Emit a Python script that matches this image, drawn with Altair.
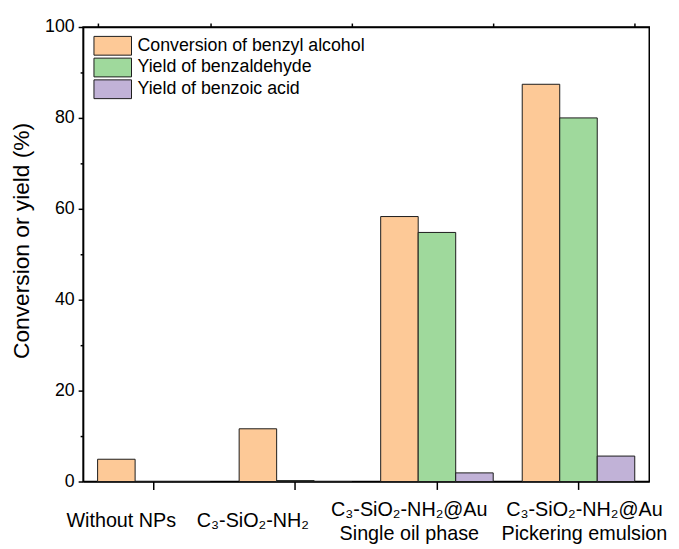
import altair as alt
import pandas as pd

# ---- data ----
categories = ["Without NPs", "C3-SiO2-NH2", "C3-SiO2-NH2@Au single oil", "C3-SiO2-NH2@Au Pickering"]
category_labels = [
    ["Without NPs"],
    ["C₃-SiO₂-NH₂"],
    ["C₃-SiO₂-NH₂@Au", "Single oil phase"],
    ["C₃-SiO₂-NH₂@Au", "Pickering emulsion"],
]
series = ["Conversion of benzyl alcohol", "Yield of benzaldehyde", "Yield of benzoic acid"]
conversion = [4.9, 11.6, 58.3, 87.4]
benzaldehyde = [0.0, 0.2, 54.8, 80.0]
benzoic_acid = [0.0, 0.0, 1.9, 5.6]
y_ticks = [0, 10, 20, 30, 40, 50, 60, 70, 80, 90, 100]

# ---- styles ----
colors = ["#FDC997", "#9FD99C", "#C1B2D7"]
label_dx = [-33, -43, -28, 6]
FONT = "Liberation Sans"
W, H = 573, 460

rows = []
for i, c in enumerate(categories):
    for s, vals in zip(series, [conversion, benzaldehyde, benzoic_acid]):
        rows.append({"cat": c, "series": s, "value": vals[i]})
df = pd.DataFrame(rows)

xscale = alt.Scale(domain=categories, paddingInner=0.205, paddingOuter=0.1025)

bars = alt.Chart(df).mark_bar(stroke="#1a1a1a", strokeWidth=1).encode(
    x=alt.X("cat:N", sort=categories, scale=xscale,
            axis=alt.Axis(labels=False, title=None, tickSize=8, tickWidth=1.5,
                          tickColor="black", domainColor="black", domainWidth=1.5)),
    xOffset=alt.XOffset("series:N", sort=series,
                        scale=alt.Scale(domain=series, paddingInner=0, paddingOuter=0)),
    y=alt.Y("value:Q", scale=alt.Scale(domain=[0, 100], nice=False),
            axis=alt.Axis(values=y_ticks,
                          labelExpr="datum.value % 20 === 0 ? datum.label : ''",
                          tickSize={"condition": {"test": "datum.value % 20 === 0", "value": 5}, "value": 3},
                          tickWidth=1.5, tickColor="black", domainColor="black", domainWidth=1.5,
                          labelFontSize=18, labelPadding=4, labelColor="black",
                          title="Conversion or yield (%)", titleFontSize=23,
                          titleFontWeight="normal", titleColor="black",
                          titleX=-50, titleY=216, titleAngle=270,
                          titleAlign="center", titleBaseline="bottom",
                          grid=False)),
    color=alt.Color("series:N", sort=series,
                    scale=alt.Scale(domain=series, range=colors),
                    legend=alt.Legend(title=None, orient="none", legendX=20, legendY=9,
                                      symbolType="M-2,-1H2V1H-2Z", symbolSize=361,
                                      symbolStrokeColor="#1a1a1a", symbolStrokeWidth=1,
                                      symbolOpacity=1, labelFontSize=18, labelOffset=15,
                                      labelLimit=0, labelColor="black", rowPadding=-3)),
)

minor_x = alt.Chart(pd.DataFrame({"cat": categories})).mark_point(opacity=0).encode(
    x=alt.X("cat:N", sort=categories, scale=xscale,
            axis=alt.Axis(labels=False, title=None, tickBand="extent", tickSize=4,
                          tickWidth=1.5, tickColor="black", domainColor="black",
                          domainWidth=1.5)),
)

text_layers = []
for cat, lines, dx in zip(categories, category_labels, label_dx):
    two = len(lines) > 1
    t = alt.Chart(pd.DataFrame({"cat": [cat]})).mark_text(
        text=lines if two else lines[0], align="center", baseline="alphabetic",
        dx=dx, dy=35 if two else 46, fontSize=20, lineHeight=24, color="black",
    ).encode(
        x=alt.X("cat:N", sort=categories, scale=xscale, axis=None),
        y=alt.datum(0),
    )
    text_layers.append(t)

chart = alt.layer(bars, minor_x, *text_layers).resolve_axis(x="independent").properties(
    width=W, height=H,
    autosize=alt.AutoSizeParams(type="none"),
    padding={"left": 76, "top": 16, "right": 22, "bottom": 60},
).configure(font=FONT).configure_view(stroke="black", strokeWidth=1.5)

chart.save("out.html", embed_options={"renderer": "svg", "actions": False})
